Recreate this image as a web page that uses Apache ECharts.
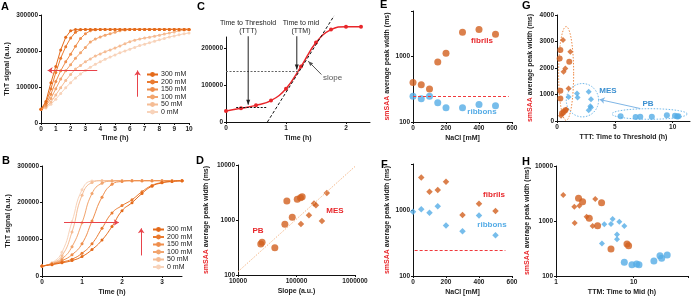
<!DOCTYPE html>
<html>
<head>
<meta charset="utf-8">
<title>smSAA aggregation kinetics</title>
<script src="https://cdn.jsdelivr.net/npm/echarts@6/dist/echarts.min.js"></script>
<style>
  html, body { margin: 0; padding: 0; background: #fff; }
  #chart { width: 696px; height: 297px; }
</style>
</head>
<body>
<div id="chart"></div>
<script>
var FONT = 'Liberation Sans';
var ORANGE = '#D2601F';
var BLUE = '#55ACE6';
var RED = '#E8262A';

// salt concentrations (legend of A and B)
var saltNames = ['300 mM', '200 mM', '150 mM', '100 mM', '50 mM', '0 mM'];
var saltColors = ['#E46A1A', '#EA7B30', '#EF8E4C', '#F2A56E', '#F5BC94', '#F8D3BA'];

// A: ThT kinetics, PB buffer, 20 min sampling
var timeA = [0, 0.33, 0.67, 1, 1.33, 1.67, 2, 2.33, 2.67, 3, 3.33, 3.67, 4, 4.33, 4.67, 5,
  5.33, 5.67, 6, 6.33, 6.67, 7, 7.33, 7.67, 8, 8.33, 8.67, 9, 9.33, 9.67, 10];
var thtA300 = [38000, 60000, 112000, 157000, 203000, 238000, 256000, 260000, 260000, 260000, 260000,
  260000, 260000, 260000, 260000, 260000, 260000, 260000, 260000, 260000, 260000, 260000, 260000,
  260000, 260000, 260000, 260000, 260000, 260000, 260000, 260000];
var thtA200 = [38000, 55000, 95000, 140000, 180000, 212000, 236000, 252000, 259000, 260000, 260000,
  260000, 260000, 260000, 260000, 260000, 260000, 260000, 260000, 260000, 260000, 260000, 260000,
  260000, 260000, 260000, 260000, 260000, 260000, 260000, 260000];
var thtA150 = [38000, 50000, 80000, 115000, 145000, 170000, 191000, 213000, 235000, 248000, 256000,
  259000, 260000, 260000, 260000, 260000, 260000, 260000, 260000, 260000, 260000, 260000, 260000,
  260000, 260000, 260000, 260000, 260000, 260000, 260000, 260000];
var thtA100 = [38000, 47000, 68000, 95000, 122000, 145000, 162000, 180000, 195000, 210000, 225000,
  233000, 239000, 244000, 248000, 252000, 256000, 258000, 260000, 260000, 260000, 260000, 260000,
  260000, 260000, 260000, 260000, 260000, 260000, 260000, 260000];
var thtA50 = [38000, 44000, 58000, 78000, 98000, 118000, 135000, 150000, 160000, 170000, 178000,
  186000, 192000, 198000, 203000, 208000, 214000, 220000, 226000, 230000, 233000, 236000, 238000,
  241000, 244000, 247000, 250000, 253000, 256000, 258000, 259000];
var thtA0 = [38000, 42000, 52000, 66000, 82000, 98000, 112000, 125000, 136000, 146000, 155000,
  163000, 170000, 177000, 183000, 189000, 195000, 200000, 205000, 210000, 215000, 219000, 223000,
  227000, 231000, 235000, 239000, 242000, 245000, 248000, 250000];

// B: ThT kinetics, MES buffer, 15 min sampling
var timeB = [0, 0.25, 0.5, 0.75, 1, 1.25, 1.5, 1.75, 2, 2.25, 2.5, 2.75, 3, 3.25, 3.5];
var thtB300 = [27000, 31000, 36000, 42000, 53000, 72000, 98000, 135000, 178000, 200000, 225000, 245000, 254000, 258000, 260000];
var thtB200 = [27000, 32000, 38000, 46000, 62000, 88000, 130000, 172000, 192000, 208000, 230000, 247000, 255000, 258000, 260000];
var thtB150 = [27000, 33000, 42000, 58000, 88000, 150000, 215000, 250000, 258000, 260000, 260000, 260000, 260000, 260000, 260000];
var thtB100 = [27000, 34000, 47000, 80000, 145000, 225000, 253000, 259000, 260000, 260000, 260000, 260000, 260000, 260000, 260000];
var thtB50 = [27000, 35000, 55000, 120000, 220000, 255000, 260000, 260000, 260000, 260000, 260000, 260000, 260000, 260000, 260000];
var thtB0 = [27000, 36000, 65000, 148000, 235000, 259000, 260000, 260000, 260000, 260000, 260000, 260000, 260000, 260000, 260000];

// C: single curve with definitions
var timeC = [0, 0.25, 0.5, 0.75, 1, 1.25, 1.5, 1.75, 2, 2.25];
var thtC = [30000, 37000, 45000, 58000, 90000, 150000, 215000, 250000, 258000, 258000];

// D: peak width vs slope (PB = circles, MES = diamonds)
var dSlopePB = [24500, 25800, 42600, 63300, 84600, 68400, 103000, 117000, 125000];
var dWidthPB = [365, 393, 313, 836, 1120, 2210, 2380, 2540, 2640];
var dSlopeMES = [199000, 215000, 330000, 163000, 119000, 272000];
var dWidthMES = [1990, 1860, 3100, 1220, 850, 960];

// E: PB buffer, F: MES buffer
var nacl = [0, 50, 100, 150, 200, 300, 400, 500];
var eFibrils = [404, 373, 321, 832, 1125, 2370, 2600, 2210];
var eRibbons = [248, 226, 248, 197, 165, 165, 185, 177];
var fFibrils = [null, 3130, 1900, 2020, 2680, 839, 1250, 966];
var fRibbons = [944, 1025, 912, 1140, 583, 477, 830, 414];
var widthThreshold = 248;

// G: peak width vs time to threshold
var gTTTOrangePB = [0.29, 0.23, 1.06, 0.29, 0.29, 0.72, 0.57, 0.43];
var gWidthOrangePB = [2680, 2360, 2240, 1140, 850, 405, 340, 290];
var gTTTOrangeMES = [0.52, 1.15, 0.72, 0.57, 1.0, 0.8, 0.35];
var gWidthOrangeMES = [3060, 2610, 1980, 1860, 1230, 430, 200];
var gTTTBluePB = [5.5, 6.8, 7.2, 8.2, 9.5, 10.2, 10.5, 10.4];
var gWidthBluePB = [180, 155, 160, 160, 220, 195, 180, 170];
var gTTTBlueMES = [1.0, 1.73, 1.78, 2.74, 2.94, 2.88, 2.74, 2.94];
var gWidthBlueMES = [910, 1040, 890, 1100, 820, 560, 405, 510];

// H: peak width vs time to mid
var hTTMOrangePB = [1.95, 2.2, 3.86, 2.68, 3.43, 5.1, 8.2, 8.6];
var hWidthOrangePB = [2590, 2240, 2150, 1120, 820, 310, 381, 355];
var hTTMOrangeMES = [1.24, 1.72, 2.0, 3.2, 2.48, 1.74, 2.96];
var hWidthOrangeMES = [2970, 1820, 1900, 2510, 1200, 920, 810];
var hTTMBluePB = [7.57, 9.5, 10.9, 11.7, 18.2, 21.8, 22.9, 27];
var hWidthBluePB = [178, 160, 165, 160, 187, 234, 210, 240];
var hTTMBlueMES = [4.19, 3.9, 5.1, 5.36, 6.53, 7.57, 6.1, 6.1];
var hWidthBlueMES = [870, 390, 880, 1090, 970, 810, 570, 465];

function pairs(xs, ys) {
  return xs.map(function (x, i) { return [x, ys[i]]; });
}

function logLabel(v) {
  var l = Math.log10(v);
  return Math.abs(l - Math.round(l)) < 1e-6 ? String(Math.round(v)) : '';
}

function axis(gridIndex, extra) {
  var base = {
    gridIndex: gridIndex,
    type: 'value',
    nameLocation: 'middle',
    axisLine: { show: true, onZero: false, lineStyle: { color: '#111', width: 1 } },
    axisTick: { show: true, length: 2, lineStyle: { color: '#111' } },
    splitLine: { show: false },
    nameTextStyle: { fontSize: 7, fontWeight: 'bold', color: '#222', fontFamily: FONT,
      rich: { r: { color: RED, fontSize: 7, fontWeight: 'bold', fontFamily: FONT } } }
  };
  var label = { fontSize: 6.5, fontWeight: 'bold', color: '#222', margin: 3, fontFamily: FONT,
    formatter: function (v) { return String(v); } };
  Object.assign(label, extra.axisLabel || {});
  delete extra.axisLabel;
  base.axisLabel = label;
  return Object.assign(base, extra);
}

var widthName = '{r|smSAA} average peak width (ms)';

var arrowLine = function (color, pts, width) {
  return {
    silent: true, symbol: ['none', 'arrow'], symbolSize: 5,
    label: { show: false },
    lineStyle: { color: color, type: 'solid', width: width || 1 },
    data: pts.map(function (p) { return [{ coord: p[0] }, { coord: p[1] }]; })
  };
};

function scatter(name, xi, data, shape, color, size) {
  return {
    name: name, type: 'scatter', xAxisIndex: xi, yAxisIndex: xi,
    symbol: shape, symbolSize: size, itemStyle: { color: color }, data: data
  };
}

function ellipse(name, xi, data, color) {
  return {
    name: name, type: 'custom', xAxisIndex: xi, yAxisIndex: xi, silent: true, z: 1,
    renderItem: function (params, api) {
      var cx = api.value(0), cy = api.value(1), rx = api.value(2), ry = api.value(3);
      var pts = [];
      for (var k = 0; k < 64; k++) {
        var a = k / 64 * Math.PI * 2;
        pts.push(api.coord([cx + rx * Math.cos(a), cy + ry * Math.sin(a)]));
      }
      return { type: 'polygon', shape: { points: pts },
        style: { fill: 'none', stroke: color, lineWidth: 1, lineDash: [1.5, 1.5] } };
    },
    data: data
  };
}

var series = [];
var thtAList = [thtA300, thtA200, thtA150, thtA100, thtA50, thtA0];
var thtBList = [thtB300, thtB200, thtB150, thtB100, thtB50, thtB0];
for (var s = saltNames.length - 1; s >= 0; s--) {
  series.push({
    name: saltNames[s], type: 'line', xAxisIndex: 0, yAxisIndex: 0,
    symbol: 'circle', symbolSize: 3, lineStyle: { width: 1, color: saltColors[s] },
    itemStyle: { color: saltColors[s] }, data: pairs(timeA, thtAList[s])
  });
  series.push({
    name: saltNames[s], type: 'line', xAxisIndex: 1, yAxisIndex: 1, smooth: 0.5,
    symbol: 'circle', symbolSize: 3, lineStyle: { width: 1, color: saltColors[s] },
    itemStyle: { color: saltColors[s] }, data: pairs(timeB, thtBList[s])
  });
}
// red arrows in A and B
series[0].markLine = arrowLine('#E8434A', [[[3.8, 146000], [0.45, 146000]], [[6.53, 73000], [6.53, 146000]]]);
series[1].markLine = arrowLine('#E8434A', [[[0.55, 146000], [1.92, 146000]], [[2.48, 56000], [2.48, 130000]]]);

// C (plateau sits above the short axis, so no clipping)
series.push({
  name: 'C', type: 'line', xAxisIndex: 2, yAxisIndex: 2, smooth: 0.45, clip: false,
  symbol: 'circle', symbolSize: 4, lineStyle: { width: 1.5, color: RED },
  itemStyle: { color: RED }, data: pairs(timeC, thtC),
  markLine: {
    silent: true, symbol: ['none', 'none'], label: { show: false },
    data: [
      [{ coord: [0, 137500], lineStyle: { color: '#666', type: [2, 1.5], width: 1 } }, { coord: [1.2, 137500] }],
      [{ coord: [0.17, 40800], lineStyle: { color: '#111', type: [2, 1.5], width: 1 } }, { coord: [0.67, 40800] }]
    ]
  }
});

// D
var dPB = scatter('D PB', 3, pairs(dSlopePB, dWidthPB), 'circle', ORANGE, 7);
dPB.markLine = { silent: true, symbol: ['none', 'none'], label: { show: false },
  lineStyle: { color: '#F5B98B', type: [1.5, 1.5], width: 1 },
  data: [[{ coord: [10000, 115] }, { coord: [1000000, 9400] }]] };
series.push(dPB);
series.push(scatter('D MES', 3, pairs(dSlopeMES, dWidthMES), 'diamond', ORANGE, 6.5));

// E
var eF = scatter('E fibrils', 4, pairs(nacl, eFibrils), 'circle', ORANGE, 7);
eF.markLine = { silent: true, symbol: ['none', 'none'], label: { show: false },
  lineStyle: { color: '#F0393C', type: [3, 2], width: 1 },
  data: [[{ coord: [0, widthThreshold] }, { coord: [580, widthThreshold] }]] };
series.push(eF);
series.push(scatter('E ribbons', 4, pairs(nacl, eRibbons), 'circle', BLUE, 7));

// F
var fF = scatter('F fibrils', 5, pairs(nacl, fFibrils), 'diamond', ORANGE, 6.5);
fF.markLine = { silent: true, symbol: ['none', 'none'], label: { show: false },
  lineStyle: { color: '#F0393C', type: [3, 2], width: 1 },
  data: [[{ coord: [10, widthThreshold] }, { coord: [560, widthThreshold] }]] };
series.push(fF);
series.push(scatter('F ribbons', 5, pairs(nacl, fRibbons), 'diamond', BLUE, 6.5));

// G
series.push(ellipse('G fibril ring', 6, [[0.79, 1795, 0.65, 1770]], '#EE8A45'));
series.push(ellipse('G ribbon rings', 6, [[2.2, 785, 1.4, 630], [8.0, 265, 3.25, 200]], '#6FB8EA'));
series.push(scatter('G o PB', 6, pairs(gTTTOrangePB, gWidthOrangePB), 'circle', ORANGE, 6));
series.push(scatter('G o MES', 6, pairs(gTTTOrangeMES, gWidthOrangeMES), 'diamond', ORANGE, 6));
series.push(scatter('G b PB', 6, pairs(gTTTBluePB, gWidthBluePB), 'circle', BLUE, 6));
var gBM = scatter('G b MES', 6, pairs(gTTTBlueMES, gWidthBlueMES), 'diamond', BLUE, 6);
gBM.markLine = arrowLine('#7FB6E6', [[[7.2, 470], [3.69, 810]]]);
series.push(gBM);

// H
series.push(scatter('H o PB', 7, pairs(hTTMOrangePB, hWidthOrangePB), 'circle', ORANGE, 7));
series.push(scatter('H o MES', 7, pairs(hTTMOrangeMES, hWidthOrangeMES), 'diamond', ORANGE, 6));
series.push(scatter('H b PB', 7, pairs(hTTMBluePB, hWidthBluePB), 'circle', BLUE, 7));
series.push(scatter('H b MES', 7, pairs(hTTMBlueMES, hWidthBlueMES), 'diamond', BLUE, 6));

function txt(text, x, y, color, size, weight, align) {
  return { type: 'text', x: x, y: y, silent: true,
    style: { text: text, fill: color, font: (weight || 'normal') + ' ' + size + 'px ' + FONT,
      textAlign: align || 'center', textVerticalAlign: 'middle' } };
}

var option = {
  animation: false,
  backgroundColor: '#fff',
  grid: [
    { left: 41, top: 15, width: 148, height: 108 },
    { left: 42, top: 166, width: 140, height: 110 },
    { left: 226, top: 37, width: 144, height: 85 },
    { left: 238, top: 165, width: 117, height: 110 },
    { left: 413, top: 11, width: 99, height: 111 },
    { left: 413, top: 164, width: 99, height: 112 },
    { left: 557, top: 15, width: 133, height: 106 },
    { left: 556, top: 166, width: 132, height: 110 }
  ],
  xAxis: [
    axis(0, { min: 0, max: 10, interval: 1, name: 'Time (h)', nameGap: 12 }),
    axis(1, { min: 0, max: 3.5, interval: 1, name: 'Time (h)', nameGap: 13, axisLabel: { showMaxLabel: false } }),
    axis(2, { min: 0, max: 2.4, interval: 1, name: 'Time (h)', nameGap: 13, axisLabel: { showMaxLabel: false } }),
    axis(3, { type: 'log', min: 10000, max: 1000000, name: 'Slope (a.u.)', nameGap: 13, axisLabel: { formatter: logLabel } }),
    axis(4, { min: 0, max: 600, interval: 200, name: 'NaCl [mM]', nameGap: 13 }),
    axis(5, { min: 0, max: 600, interval: 200, name: 'NaCl [mM]', nameGap: 13 }),
    axis(6, { min: 0, max: 11.5, interval: 5, name: 'TTT: Time to Threshold (h)', nameGap: 13, axisLabel: { showMaxLabel: false } }),
    axis(7, { type: 'log', min: 1, max: 50, name: 'TTM: Time to Mid (h)', nameGap: 13, axisLabel: { formatter: logLabel } })
  ],
  yAxis: [
    axis(0, { min: 0, max: 300000, interval: 100000, name: 'ThT signal (a.u.)', nameGap: 30 }),
    axis(1, { min: 0, max: 300000, interval: 100000, name: 'ThT signal (a.u.)', nameGap: 30 }),
    axis(2, { min: 0, max: 230000, interval: 100000, axisLabel: { showMaxLabel: false } }),
    axis(3, { type: 'log', min: 100, max: 10000, name: widthName, nameGap: 28, axisLabel: { formatter: logLabel } }),
    axis(4, { type: 'log', min: 100, max: 5000, name: widthName, nameGap: 22, axisLabel: { formatter: logLabel } }),
    axis(5, { type: 'log', min: 100, max: 5000, name: widthName, nameGap: 22, axisLabel: { formatter: logLabel } }),
    axis(6, { min: 0, max: 4000, interval: 1000, name: widthName, nameGap: 23 }),
    axis(7, { type: 'log', min: 100, max: 10000, name: widthName, nameGap: 22, axisLabel: { formatter: logLabel } })
  ],
  legend: [
    { left: 141, top: 66, orient: 'vertical', itemGap: 0.5, itemWidth: 11, itemHeight: 6,
      textStyle: { fontSize: 7, color: '#222', fontFamily: FONT, padding: [0, 0, 0, -2] },
      data: saltNames, selectedMode: false },
    { left: 147, top: 221, orient: 'vertical', itemGap: 0.5, itemWidth: 11, itemHeight: 6,
      textStyle: { fontSize: 7, color: '#222', fontFamily: FONT, padding: [0, 0, 0, -2] },
      data: saltNames, selectedMode: false }
  ],
  series: series
};

var chart = echarts.init(document.getElementById('chart'));
chart.setOption(option);

// lines and arrows in C that run past the axis top, placed from data coords
function arrowEls(gi, from, to, color, dash, head) {
  var a = chart.convertToPixel({ gridIndex: gi }, from);
  var b = chart.convertToPixel({ gridIndex: gi }, to);
  var dx = b[0] - a[0], dy = b[1] - a[1], len = Math.sqrt(dx * dx + dy * dy);
  var ux = dx / len, uy = dy / len;
  var els = [{ type: 'line', silent: true, z: 10,
    shape: { x1: a[0], y1: a[1], x2: b[0], y2: b[1] },
    style: { stroke: color, lineWidth: 1, lineDash: dash || null } }];
  if (head) {
    els.push({ type: 'polygon', silent: true, z: 10,
      shape: { points: [[b[0], b[1]],
        [b[0] - 5 * ux - 2 * uy, b[1] - 5 * uy + 2 * ux],
        [b[0] - 5 * ux + 2 * uy, b[1] - 5 * uy - 2 * ux]] },
      style: { fill: color } });
  }
  return els;
}

var extra = []
  .concat(arrowEls(2, [0.69, 0], [1.8, 287000], '#111', [3, 2], false))
  .concat(arrowEls(2, [0.37, 232000], [0.37, 47000], '#222', null, true))
  .concat(arrowEls(2, [1.18, 232000], [1.18, 142000], '#222', null, true))
  .concat(arrowEls(2, [1.59, 128500], [1.37, 164700], '#555', null, true));

chart.setOption({
  graphic: [
    txt('A', 1, 7, '#000', 11, 'bold', 'left'),
    txt('B', 2, 161, '#000', 11, 'bold', 'left'),
    txt('C', 197, 7, '#000', 11, 'bold', 'left'),
    txt('D', 196, 161, '#000', 11, 'bold', 'left'),
    txt('E', 380, 5, '#000', 11, 'bold', 'left'),
    txt('F', 381, 165, '#000', 11, 'bold', 'left'),
    txt('G', 522, 6, '#000', 11, 'bold', 'left'),
    txt('H', 522, 162, '#000', 11, 'bold', 'left'),
    txt('Time to Threshold', 248, 23, '#222', 7),
    txt('(TTT)', 248, 31, '#222', 7),
    txt('Time to mid', 301, 23, '#222', 7),
    txt('(TTM)', 301, 31, '#222', 7),
    txt('slope', 323, 78, '#555', 8, 'normal', 'left'),
    txt('PB', 258, 231, RED, 8, 'bold'),
    txt('MES', 335, 211, RED, 8, 'bold'),
    txt('fibrils', 482, 41, RED, 8, 'bold'),
    txt('ribbons', 482, 112, BLUE, 8, 'bold'),
    txt('fibrils', 494, 195, RED, 8, 'bold'),
    txt('ribbons', 492, 225, BLUE, 8, 'bold'),
    txt('MES', 608, 91, '#3A8FD0', 8, 'bold'),
    txt('PB', 648, 104, '#3A8FD0', 8, 'bold')
  ].concat(extra)
});

window.addEventListener('resize', function () { chart.resize(); });
</script>
</body>
</html>
